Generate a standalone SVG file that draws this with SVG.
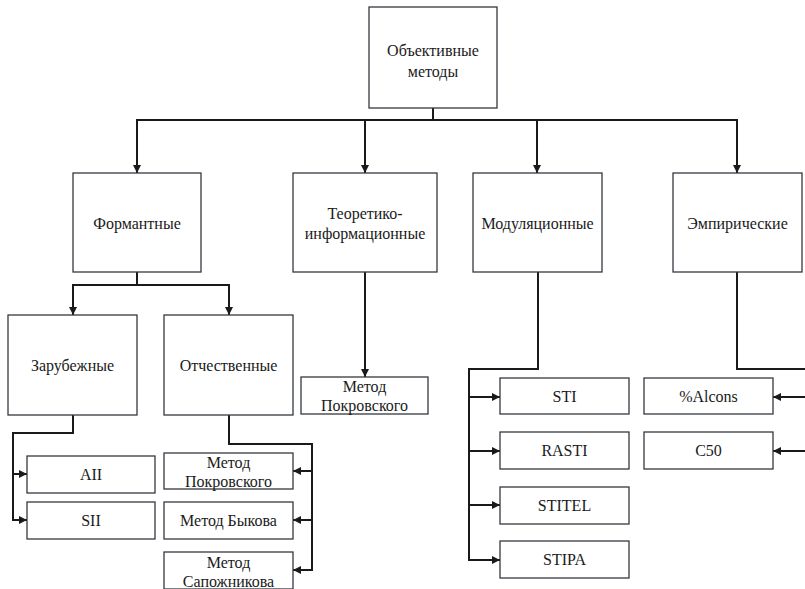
<svg xmlns="http://www.w3.org/2000/svg" width="805" height="589" viewBox="0 0 805 589">
<defs>
<style>
.box{fill:#fff;stroke:#343a40;stroke-width:1.3}
.t{font-family:'Liberation Serif',serif;font-size:16px;fill:#1a1a1a;text-anchor:middle;dominant-baseline:central}
.c{fill:none;stroke:#1a1a1a;stroke-width:2}
.a{fill:none;stroke:#1a1a1a;stroke-width:2;marker-end:url(#arr)}
</style>
<marker id="arr" markerUnits="userSpaceOnUse" markerWidth="9" markerHeight="9" refX="8" refY="4" orient="auto">
<path d="M0,0 L8,4 L0,8 z" fill="#1a1a1a"/>
</marker>
</defs>
<rect width="805" height="589" fill="#fff"/>
<g id="connectors">
<path class="c" d="M433 108 V120 M136 120 H738"/>
<path class="a" d="M137 120 V173"/>
<path class="a" d="M365 120 V173"/>
<path class="a" d="M537 120 V173"/>
<path class="a" d="M737 120 V173"/>
<path class="c" d="M137 272 V285 M72 285 H230"/>
<path class="a" d="M73 285 V315"/>
<path class="a" d="M229 285 V315"/>
<path class="a" d="M365 272 V377"/>
<path class="a" d="M73 415 V433 H13 V520 H27"/>
<path class="a" d="M13 474 H27"/>
<path class="a" d="M229 415 V444 H312 V570 H293"/>
<path class="a" d="M312 471 H293"/>
<path class="a" d="M312 520 H293"/>
<path class="a" d="M538 272 V369 H469 V560 H500"/>
<path class="a" d="M469 397 H500"/>
<path class="a" d="M469 451 H500"/>
<path class="a" d="M469 505 H500"/>
<path class="c" d="M737 272 V369 H806"/>
<path class="a" d="M806 397 H773"/>
<path class="a" d="M806 451 H773"/>
</g>
<g id="n-top"><rect class="box" x="369" y="7" width="128" height="101"/><text class="t" x="433" y="50">Объективные</text><text class="t" x="433" y="71">методы</text></g>
<g id="n-formant"><rect class="box" x="73" y="173" width="128" height="99"/><text class="t" x="137" y="223">Формантные</text></g>
<g id="n-teor"><rect class="box" x="293" y="173" width="144" height="99"/><text class="t" x="365" y="213">Теоретико-</text><text class="t" x="365" y="233">информационные</text></g>
<g id="n-mod"><rect class="box" x="473" y="173" width="129" height="99"/><text class="t" x="537.5" y="223">Модуляционные</text></g>
<g id="n-emp"><rect class="box" x="673" y="173" width="129" height="99"/><text class="t" x="737.5" y="223">Эмпирические</text></g>
<g id="n-zarub"><rect class="box" x="8" y="315" width="129" height="100"/><text class="t" x="72.5" y="365">Зарубежные</text></g>
<g id="n-otch"><rect class="box" x="164" y="315" width="129" height="100"/><text class="t" x="228.5" y="365">Отчественные</text></g>
<g id="n-aii"><rect class="box" x="27" y="456" width="128" height="37"/><text class="t" x="91" y="474.5">AII</text></g>
<g id="n-sii"><rect class="box" x="27" y="502" width="128" height="37"/><text class="t" x="91" y="520.5">SII</text></g>
<g id="n-opokr"><rect class="box" x="164" y="453" width="129" height="36"/><text class="t" x="228.5" y="462">Метод</text><text class="t" x="228.5" y="481">Покровского</text></g>
<g id="n-bykov"><rect class="box" x="164" y="502" width="129" height="37"/><text class="t" x="228.5" y="520.5">Метод Быкова</text></g>
<g id="n-sapozh"><rect class="box" x="164" y="552" width="129" height="37"/><text class="t" x="228.5" y="562">Метод</text><text class="t" x="228.5" y="581">Сапожникова</text></g>
<g id="n-tpokr"><rect class="box" x="301" y="377" width="127" height="37"/><text class="t" x="364.5" y="386">Метод</text><text class="t" x="364.5" y="405">Покровского</text></g>
<g id="n-sti"><rect class="box" x="500" y="378" width="129" height="36"/><text class="t" x="564.5" y="396">STI</text></g>
<g id="n-rasti"><rect class="box" x="500" y="432" width="129" height="37"/><text class="t" x="564.5" y="450.5">RASTI</text></g>
<g id="n-stitel"><rect class="box" x="500" y="487" width="129" height="37"/><text class="t" x="564.5" y="505.5">STITEL</text></g>
<g id="n-stipa"><rect class="box" x="500" y="541" width="129" height="37"/><text class="t" x="564.5" y="559.5">STIPA</text></g>
<g id="n-alcons"><rect class="box" x="644" y="378" width="129" height="36"/><text class="t" x="708.5" y="396">%Alcons</text></g>
<g id="n-c50"><rect class="box" x="644" y="432" width="129" height="37"/><text class="t" x="708.5" y="450.5">C50</text></g>
</svg>
